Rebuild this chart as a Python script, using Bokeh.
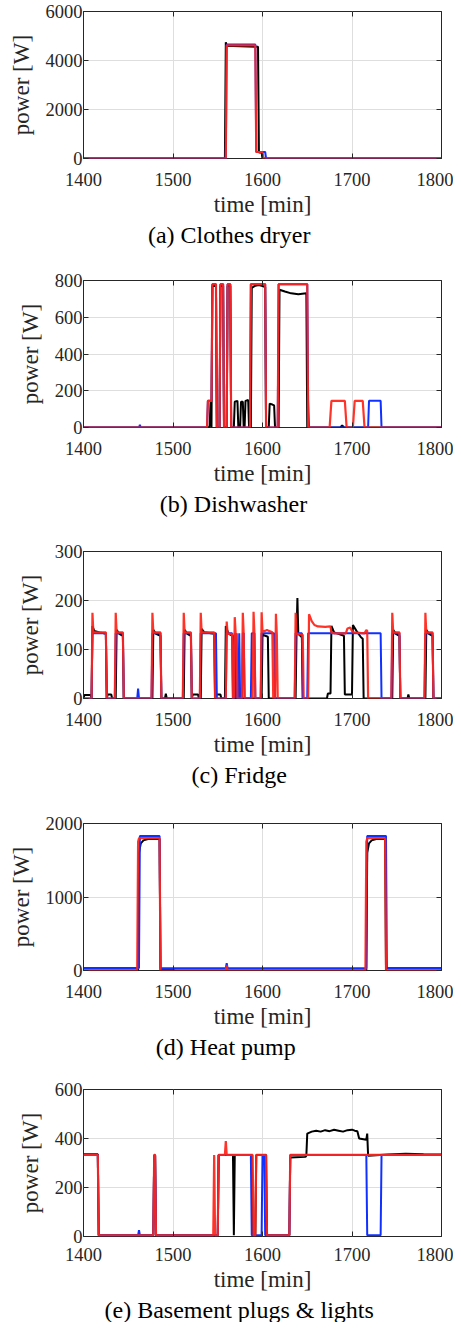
from bokeh.plotting import figure
from bokeh.layouts import column
from bokeh.models import LinearAxis, Title, FixedTicker, Range1d, CustomJSTickFormatter
from bokeh.embed import file_html
from bokeh.resources import INLINE

FONT = "Liberation Serif"
time_ticks = [1400, 1500, 1600, 1700, 1800]

# (a) Clothes dryer
dryer_t_black = [1400, 1558, 1559, 1560, 1575, 1594, 1595, 1596, 1599, 1600, 1800]
dryer_black = [0, 0, 4740, 4600, 4580, 4560, 4560, 250, 250, 0, 0]
dryer_t_blue = [1400, 1559, 1560, 1592, 1593, 1603, 1604, 1800]
dryer_blue = [0, 0, 4650, 4650, 265, 265, 0, 0]
dryer_t_red = [1400, 1559, 1560, 1592, 1593, 1600, 1601, 1800]
dryer_red = [0, 0, 4620, 4620, 265, 265, 0, 0]

# (b) Dishwasher
dw_t_black = [1400,1540,1541,1542,1543,1544,1548,1549,1552,1553,1556,1557,1560,1561,1564,1565,1568,1569,1572,1573,1575,1576,1578,1579,1580,1581,1584,1585,1587,1588,1592,1596,1600,1603,1604,1607,1608,1611,1613,1614,1618,1619,1625,1632,1640,1649,1650,1687,1689,1691,1800]
dw_black = [0,0,10,140,0,770,770,0,0,770,770,0,0,770,770,0,0,140,145,0,0,140,140,0,0,145,150,0,0,760,772,775,770,765,0,0,130,125,120,0,0,750,740,730,725,730,0,0,12,0,0]
dw_t_blue = [1400,1462,1463,1464,1538,1539,1543,1544,1548,1549,1552,1553,1556,1557,1560,1561,1564,1565,1586,1587,1603,1604,1617,1618,1650,1651,1652,1718,1719,1732,1733,1800]
dw_blue = [0,0,15,0,0,145,145,780,780,0,0,780,780,0,0,780,780,0,0,780,780,0,0,780,780,145,0,0,145,145,0,0]
dw_t_red = [1400,1538,1539,1543,1544,1548,1549,1552,1553,1556,1557,1560,1561,1564,1565,1586,1587,1603,1604,1617,1618,1650,1651,1675,1677,1692,1694,1701,1703,1712,1714,1800]
dw_red = [0,0,145,145,780,780,0,0,780,780,0,0,780,780,0,0,780,780,0,0,780,780,0,0,145,145,0,0,145,145,0,0]

# (c) Fridge
fr_t_black = [1400,1401,1408,1409,1410,1412,1418,1425,1426,1427,1431,1432,1436,1437,1440,1444,1445,1477,1478,1481,1486,1487,1491,1492,1493,1512,1513,1516,1520,1521,1522,1528,1529,1531,1532,1535,1546,1547,1548,1553,1554,1558,1559,1562,1567,1568,1599,1600,1606,1607,1637,1638,1639,1640,1644,1645,1672,1673,1676,1677,1680,1691,1692,1700,1701,1705,1710,1712,1713,1745,1746,1749,1753,1754,1762,1763,1764,1782,1783,1786,1790,1791,1800]
fr_black = [0,7,7,0,148,138,135,132,0,8,8,0,0,140,132,128,0,0,140,132,128,0,0,10,0,0,140,132,128,0,8,8,0,0,142,135,132,0,8,8,0,0,148,132,128,0,0,130,126,0,0,130,205,132,125,0,0,10,10,148,135,128,8,8,150,138,125,122,0,0,140,132,128,0,0,8,0,0,140,132,128,0,0]
fr_t_blue = [1400,1409,1410,1425,1426,1435,1436,1444,1445,1460,1461,1462,1476,1477,1486,1487,1511,1512,1520,1521,1530,1531,1548,1549,1559,1560,1566,1567,1568,1569,1570,1571,1572,1573,1574,1575,1576,1577,1578,1579,1580,1587,1588,1591,1592,1598,1599,1613,1614,1636,1637,1644,1645,1650,1651,1732,1733,1744,1745,1753,1754,1781,1782,1790,1791,1800]
fr_blue = [0,0,133,133,0,0,133,133,0,0,20,0,0,133,133,0,0,133,133,0,0,133,133,0,0,133,133,0,0,133,0,133,0,0,133,0,0,0,133,133,0,0,133,133,0,0,133,133,0,0,133,133,0,0,133,133,0,0,133,133,0,0,133,133,0,0]
fr_t_red = [1400,1409,1410,1411,1425,1426,1435,1436,1437,1444,1445,1476,1477,1478,1486,1487,1511,1512,1513,1520,1521,1530,1531,1532,1546,1547,1559,1560,1561,1566,1567,1568,1569,1570,1571,1572,1577,1578,1579,1580,1589,1590,1591,1592,1598,1599,1600,1603,1605,1607,1611,1612,1614,1615,1616,1617,1636,1637,1638,1645,1646,1651,1652,1655,1658,1662,1670,1676,1677,1680,1693,1695,1698,1700,1702,1714,1716,1717,1718,1744,1745,1746,1753,1754,1781,1782,1783,1790,1791,1800]
fr_red = [0,0,175,135,135,0,0,175,135,135,0,0,175,135,135,0,0,175,135,135,0,0,175,135,135,0,0,157,132,132,0,0,166,132,132,0,0,175,132,0,0,177,132,0,0,176,137,138,140,138,135,0,0,173,130,0,0,175,132,130,0,0,172,158,150,147,146,147,135,133,133,143,145,138,135,133,140,138,0,0,175,135,135,0,0,175,135,135,0,0]

# (d) Heat pump
hp_t_black = [1400,1461,1462,1464,1467,1472,1485,1486,1488,1500,1502,1716,1717,1719,1722,1727,1737,1738,1800]
hp_black = [0,0,1600,1730,1770,1790,1790,0,10,10,0,0,1600,1730,1770,1790,1790,0,0]
hp_t_blue = [1400,1462,1463,1485,1486,1559,1560,1561,1716,1717,1738,1739,1800]
hp_blue = [35,35,1830,1830,30,30,100,30,30,1830,1830,35,35]
hp_t_red = [1400,1460,1461,1462,1485,1486,1559,1560,1561,1715,1716,1717,1737,1738,1800]
hp_red = [0,0,1750,1800,1800,0,0,70,0,0,1750,1800,1800,0,0]

# (e) Basement plugs & lights
bs_t_black = [1400,1416,1417,1478,1479,1480,1481,1550,1551,1567,1568,1569,1588,1589,1592,1593,1604,1605,1630,1631,1648,1649,1650,1655,1660,1665,1670,1675,1680,1685,1690,1695,1700,1703,1706,1708,1716,1717,1718,1740,1760,1780,1800]
bs_black = [336,336,5,5,330,330,5,5,333,333,5,333,333,5,5,333,333,5,5,322,325,330,420,428,432,428,434,430,436,432,428,434,436,432,430,400,395,420,330,335,338,336,335]
bs_t_blue = [1400,1416,1417,1461,1462,1463,1478,1479,1480,1481,1550,1551,1587,1588,1599,1600,1602,1603,1630,1631,1716,1717,1732,1733,1800]
bs_blue = [333,333,5,5,26,5,5,333,333,5,5,333,333,5,5,333,333,5,5,333,333,5,5,333,333]
bs_t_red = [1400,1416,1417,1478,1479,1480,1481,1545,1546,1547,1550,1551,1558,1559,1560,1589,1590,1592,1593,1604,1605,1630,1631,1800]
bs_red = [333,333,5,5,333,333,5,5,333,5,5,333,333,390,333,333,5,5,333,333,5,5,333,333]

GRAY = "#262626"
FIG_W = 453

# approximate advance widths (per 1000 em) of Liberation Serif, for centring captions
_W = {" ": 250, "(": 333, ")": 333, "&": 778, "a": 444, "b": 500, "c": 444, "d": 500, "e": 444,
      "g": 500, "h": 500, "i": 278, "l": 278, "m": 778, "n": 500, "o": 500, "p": 500, "r": 333,
      "s": 389, "t": 278, "u": 500, "w": 722, "y": 500, "B": 667, "C": 667, "D": 722, "F": 556, "H": 722}


def text_width(s, size):
    return sum(_W.get(ch, 500) for ch in s) * size / 1000.0


def style_axis(ax, show_labels=True):
    ax.axis_line_color = None
    ax.major_tick_line_color = GRAY
    ax.major_tick_in = 5
    ax.major_tick_out = 0
    ax.minor_tick_line_color = None
    ax.major_label_text_font = FONT
    ax.major_label_text_font_size = "18.5px"
    ax.major_label_text_color = GRAY
    ax.axis_label_text_font = FONT
    ax.axis_label_text_font_size = "23px"
    ax.axis_label_text_font_style = "normal"
    ax.axis_label_text_color = GRAY
    if not show_labels:
        ax.formatter = CustomJSTickFormatter(code="return ''")
        ax.major_label_text_font_size = "1px"
        ax.major_label_standoff = 0


def panel(caption, ymax, yticks, black, blue, red, left_border, height,
          cap_center, xstand=14, cap_stand=0, top_border=11, frame_h=147, right_border=12):
    bottom = height - top_border - frame_h
    p = figure(width=FIG_W, height=height,
               x_range=Range1d(1400, 1800), y_range=Range1d(0, ymax),
               output_backend="svg", toolbar_location=None,
               min_border_left=left_border, min_border_right=right_border,
               min_border_top=top_border, min_border_bottom=bottom,
               x_axis_label="time [min]", y_axis_label="power [W]")
    p.background_fill_color = "white"
    p.border_fill_color = "white"
    p.outline_line_color = GRAY
    p.outline_line_width = 1
    p.xaxis.ticker = FixedTicker(ticks=time_ticks)
    p.yaxis.ticker = FixedTicker(ticks=yticks)
    p.xgrid.ticker = FixedTicker(ticks=time_ticks)
    p.ygrid.ticker = FixedTicker(ticks=yticks)
    p.xgrid.grid_line_color = "#dedede"
    p.ygrid.grid_line_color = "#dedede"
    p.xgrid.grid_line_width = 1
    p.ygrid.grid_line_width = 1
    for ax in p.xaxis:
        style_axis(ax)
        ax.major_label_standoff = xstand
        ax.axis_label_standoff = 3
    for ax in p.yaxis:
        style_axis(ax)
        ax.major_label_standoff = 1
        ax.axis_label_standoff = 9
    ax_r = LinearAxis(ticker=FixedTicker(ticks=yticks))
    style_axis(ax_r, False)
    p.add_layout(ax_r, "right")
    ax_t = LinearAxis(ticker=FixedTicker(ticks=time_ticks))
    style_axis(ax_t, False)
    p.add_layout(ax_t, "above")

    (bt, bv), (ut, uv), (rt, rv) = black, blue, red
    p.line(bt, bv, line_color="#000000", line_width=2)
    p.line(ut, uv, line_color="#1030ff", line_width=2)
    p.line(rt, rv, line_color="#ff2418", line_width=2.2, line_alpha=0.93)

    frame_left = 8 + left_border
    off = cap_center - text_width(caption, 24) / 2 - frame_left
    t = Title(text=caption, align="left", offset=off,
              text_font=FONT, text_font_size="24px", text_font_style="normal",
              text_color="#000000", standoff=cap_stand)
    p.add_layout(t, "below")
    return p


pa = panel("(a) Clothes dryer", 6000, [0, 2000, 4000, 6000],
           (dryer_t_black, dryer_black), (dryer_t_blue, dryer_blue), (dryer_t_red, dryer_red),
           83, 269, 236.7)
pb = panel("(b) Dishwasher", 800, [0, 200, 400, 600, 800],
           (dw_t_black, dw_black), (dw_t_blue, dw_blue), (dw_t_red, dw_red),
           73, 271, 231)
pc = panel("(c) Fridge", 300, [0, 100, 200, 300],
           (fr_t_black, fr_black), (fr_t_blue, fr_blue), (fr_t_red, fr_red),
           73, 272, 236.7)
pd = panel("(d) Heat pump", 2000, [0, 1000, 2000],
           (hp_t_black, hp_black), (hp_t_blue, hp_blue), (hp_t_red, hp_red),
           83, 266, 233.3)
pe = panel("(e) Basement plugs & lights", 600, [0, 200, 400, 600],
           (bs_t_black, bs_black), (bs_t_blue, bs_blue), (bs_t_red, bs_red),
           73, 244, 236.7, xstand=11, cap_stand=0)

layout = column(pa, pb, pc, pd, pe, spacing=0, margin=(0, -8, 0, 0))
open("out.html", "w").write(file_html(layout, INLINE))
